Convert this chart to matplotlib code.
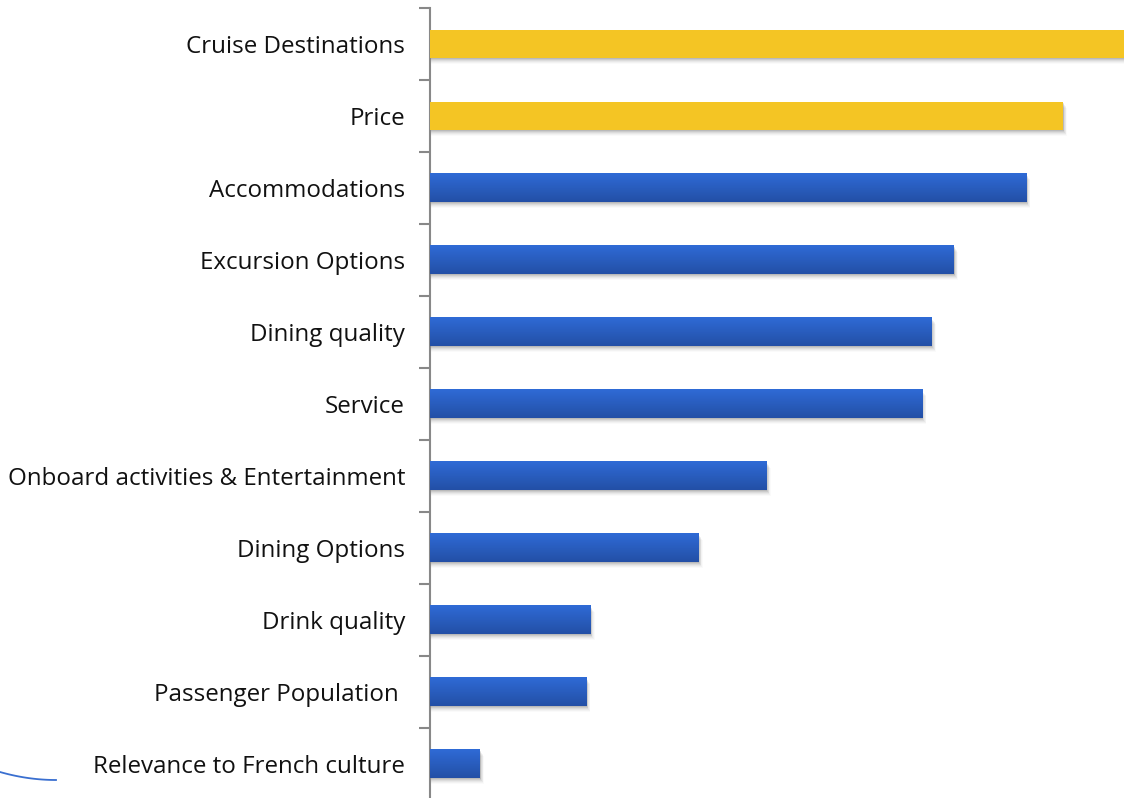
import numpy as np
import matplotlib
matplotlib.use("Agg")
import matplotlib.pyplot as plt
from matplotlib.patches import Rectangle
from matplotlib.colors import LinearSegmentedColormap

# data (top to bottom)
categories = ['Cruise Destinations', 'Price', 'Accommodations', 'Excursion Options',
              'Dining quality', 'Service', 'Onboard activities & Entertainment',
              'Dining Options', 'Drink quality', 'Passenger Population ',
              'Relevance to French culture']
values = [100, 91.2, 85.9, 75.5, 72.3, 70.9, 48.5, 38.7, 23.1, 22.5, 7.2]
highlight = [True, True, False, False, False, False, False, False, False, False, False]

plt.rcParams['font.family'] = ['Open Sans', 'DejaVu Sans']

fig = plt.figure(figsize=(11.24, 7.98), dpi=100)
W, H = 1124, 798
ax = fig.add_axes([430 / W, -2 / H, 694 / W, 792 / H])

n = len(categories)
ypos = np.arange(n)[::-1]
bh = 0.4
xmax = 100.0
px_x = xmax / 693
px_y = 1 / 72

blue_cmap = LinearSegmentedColormap.from_list('b', ['#234fa6', '#2f6bd6'])
grad = np.linspace(0, 1, 64).reshape(-1, 1)

for y, v, hl in zip(ypos, values, highlight):
    # soft shadow
    for k, a in [(1, 0.09), (2, 0.07), (3, 0.05), (4, 0.04), (5, 0.03), (6, 0.02)]:
        ax.add_patch(Rectangle((0, y - bh / 2 - k * px_y), v + k * px_x * 0.7, bh,
                               facecolor='#000000', alpha=a, edgecolor='none', zorder=1))
    if hl:
        ax.add_patch(Rectangle((0, y - bh / 2), v, bh, facecolor='#f4c524',
                               edgecolor='none', zorder=3))
    else:
        ax.imshow(grad, extent=(0, v, y - bh / 2, y + bh / 2), origin='lower',
                  aspect='auto', cmap=blue_cmap, interpolation='bicubic', zorder=3)

ax.set_xlim(0, xmax)
ax.set_ylim(-0.5, n - 0.5)
ax.set_yticks(ypos)
ax.set_yticklabels(categories, fontsize=17.4, color='#111111')
ax.tick_params(axis='y', which='major', length=0, pad=18)
ax.set_yticks(np.arange(n + 1) - 0.5, minor=True)
ax.tick_params(axis='y', which='minor', length=8, width=1.5, color='#888888', direction='out')
ax.set_xticks([])
for s in ['top', 'right', 'bottom']:
    ax.spines[s].set_visible(False)
ax.spines['left'].set_color('#888888')
ax.spines['left'].set_linewidth(1.5)

# decorative curve bottom-left
t = np.linspace(0, 1, 50)
cx = 56 * t
cy = 772 + 8 * (1 - (1 - t) ** 2)
fig.add_artist(plt.Line2D(cx / W, 1 - cy / H, color='#3a6fd0', linewidth=1.3,
                          transform=fig.transFigure))

fig.savefig('out.png', dpi=100)
